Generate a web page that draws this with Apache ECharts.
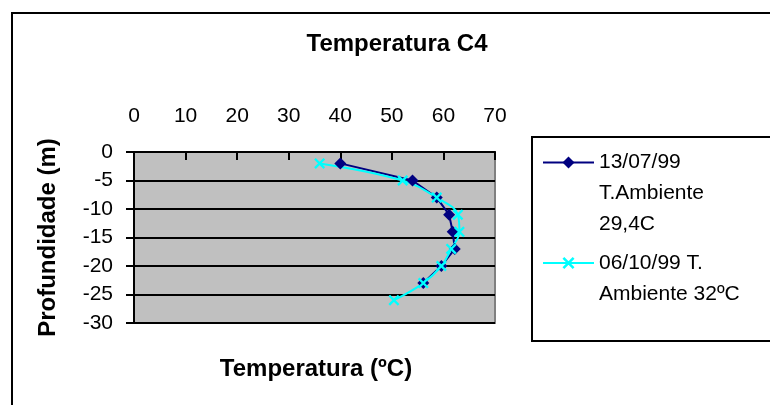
<!DOCTYPE html>
<html>
<head>
<meta charset="utf-8">
<script src="https://cdn.jsdelivr.net/npm/echarts@6/dist/echarts.min.js"></script>
<style>
  html, body { margin: 0; padding: 0; background: #fff; }
  #chart { width: 770px; height: 405px; }
</style>
</head>
<body>
<div id="chart"></div>
<script>
// Temperature profile of borehole C4, two survey dates
var depths1 = [-2, -5, -8, -11, -14, -17, -20, -23];
var temps1 = [40, 54, 58.7, 61.1, 61.8, 62.2, 59.6, 56.1];
var depths2 = [-2, -5, -8, -11, -14, -17, -20, -23, -26];
var temps2 = [36, 52.1, 58.7, 62.8, 63.1, 61.5, 59.6, 56.1, 50.4];

var name1 = '13/07/99\nT.Ambiente\n29,4C';
var name2 = '06/10/99 T.\nAmbiente 32ºC';
var titleText = 'Temperatura C4';
var xTitle = 'Temperatura (ºC)';
var yTitle = 'Profundidade (m)';

var FONT = '"Liberation Sans", Arial, sans-serif';
var CROSS = 'path://M0,1.5L1.5,0L10,8.5L8.5,10ZM8.5,0L10,1.5L1.5,10L0,8.5Z';

function pairs(xs, ys) {
  return xs.map(function (x, i) { return [x, ys[i]]; });
}

// Legend text is centred on its icon; pad with leading blank lines so the
// first line of a multi-line entry sits level with the icon.
function topAligned(name) {
  var n = name.split('\n').length;
  return new Array(n).join('\n') + name;
}

var legendBase = {
  left: 542, padding: 0, orient: 'vertical', itemWidth: 51, itemHeight: 15,
  selectedMode: false, formatter: topAligned,
  textStyle: { fontSize: 21, lineHeight: 31, color: '#000', fontFamily: FONT }
};

var chart = echarts.init(document.getElementById('chart'), null, { renderer: 'canvas' });

chart.setOption({
  backgroundColor: '#ffffff',
  animation: false,
  textStyle: { fontFamily: FONT, color: '#000' },
  graphic: [
    { type: 'rect', shape: { x: 12, y: 13, width: 800, height: 500 },
      style: { fill: 'none', stroke: '#000', lineWidth: 2 }, z: -1 },
    { type: 'rect', shape: { x: 532, y: 137, width: 300, height: 204 },
      style: { fill: 'none', stroke: '#000', lineWidth: 2 } },
    { type: 'text', style: { text: titleText, x: 397, y: 44, align: 'center', verticalAlign: 'middle',
      font: 'bold 24px ' + FONT, fill: '#000' } },
    { type: 'text', style: { text: xTitle, x: 316, y: 369, align: 'center', verticalAlign: 'middle',
      font: 'bold 24px ' + FONT, fill: '#000' } }
  ],
  legend: [
    Object.assign({}, legendBase, { top: 85, data: [name1] }),
    Object.assign({}, legendBase, { top: 216.5, data: [name2] })
  ],
  grid: {
    left: 134, top: 152, width: 361, height: 171,
    show: true, backgroundColor: '#C0C0C0', borderColor: '#808080', borderWidth: 2
  },
  xAxis: {
    type: 'value', position: 'top', min: 0, max: 70, interval: 10,
    axisLine: { show: true, onZero: false, lineStyle: { color: '#000', width: 2 } },
    axisTick: { show: true, inside: true, length: 8, lineStyle: { color: '#000', width: 2 } },
    axisLabel: { fontSize: 21, color: '#000', margin: 25, fontFamily: FONT },
    splitLine: { show: false }
  },
  yAxis: {
    type: 'value', min: -30, max: 0, interval: 5,
    name: yTitle, nameLocation: 'middle', nameRotate: 90, nameGap: 74,
    nameTextStyle: { fontSize: 24, fontWeight: 'bold', color: '#000', fontFamily: FONT },
    axisLine: { show: true, onZero: false, lineStyle: { color: '#000', width: 2 } },
    axisTick: { show: true, inside: false, length: 8, lineStyle: { color: '#000', width: 2 } },
    axisLabel: { fontSize: 21, color: '#000', margin: 21, fontFamily: FONT },
    splitLine: { show: true, lineStyle: { color: '#000', width: 2 } }
  },
  series: [
    {
      name: name1, type: 'line', data: pairs(temps1, depths1),
      symbol: 'diamond', symbolSize: 12,
      lineStyle: { color: '#000080', width: 2 },
      itemStyle: { color: '#000080' }
    },
    {
      name: name2, type: 'line', data: pairs(temps2, depths2),
      smooth: 0.4,
      symbol: CROSS, symbolSize: 11,
      lineStyle: { color: '#00FFFF', width: 2 },
      itemStyle: { color: '#00FFFF' }
    }
  ]
});
</script>
</body>
</html>
